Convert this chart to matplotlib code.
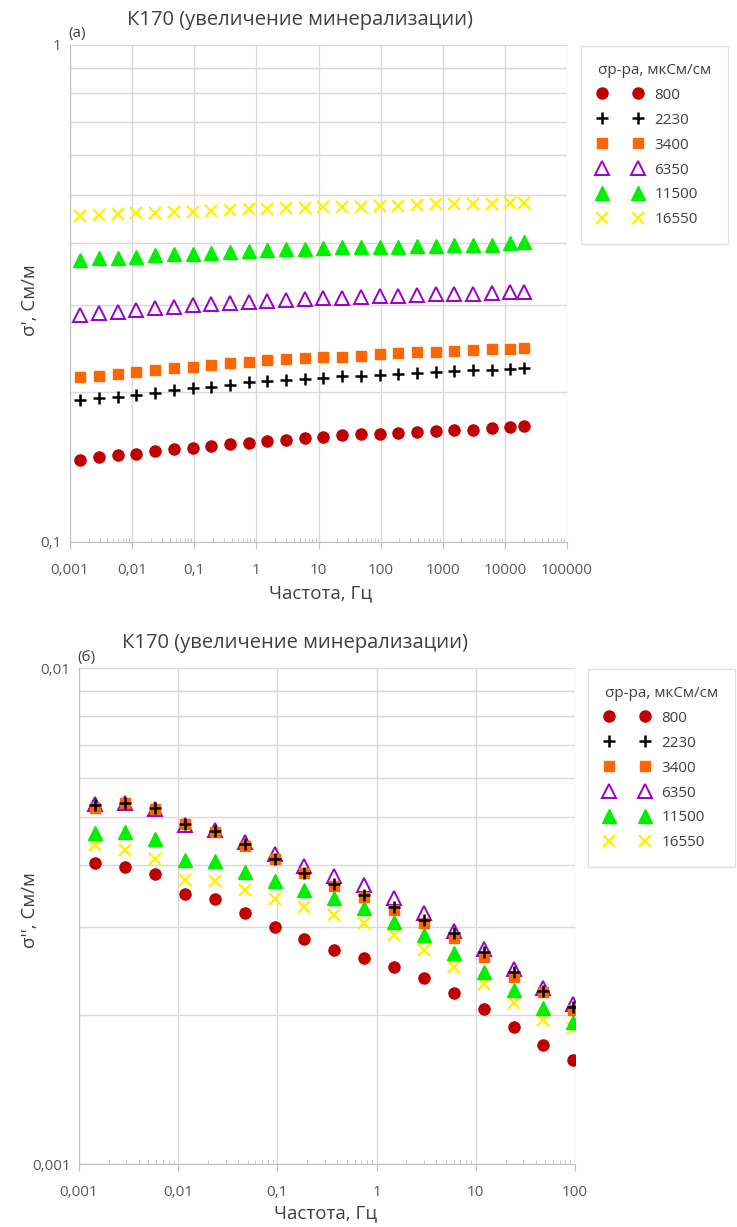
import matplotlib
matplotlib.use("Agg")
import matplotlib.pyplot as plt
from matplotlib.ticker import FuncFormatter, LogLocator, NullFormatter

plt.rcParams['font.family'] = ['Open Sans', 'DejaVu Sans']

# frequencies, Hz
freq_top = [0.00146, 0.00293, 0.00586, 0.0117, 0.0234, 0.0469, 0.0938, 0.1875, 0.375, 0.75,
            1.5, 3, 6, 12, 24, 48, 96, 192, 384, 768, 1536, 3072, 6144, 12288, 20000]
freq_bot = freq_top[:17]

labels = ["800", "2230", "3400", "6350", "11500", "16550"]

# sigma' (top), S/m
s1_800 = [0.1462, 0.1481, 0.1494, 0.1506, 0.1523, 0.1537, 0.1548, 0.1561, 0.1573, 0.1584,
          0.1597, 0.1604, 0.1617, 0.1625, 0.1640, 0.1647, 0.1652, 0.1660, 0.1665, 0.1670,
          0.1678, 0.1683, 0.1696, 0.1704, 0.1712]
s1_2230 = [0.1931, 0.1949, 0.1961, 0.1979, 0.1998, 0.2023, 0.2039, 0.2054, 0.2070, 0.2096,
           0.2109, 0.2118, 0.2128, 0.2141, 0.2155, 0.2161, 0.2171, 0.2181, 0.2191, 0.2198,
           0.2209, 0.2216, 0.2222, 0.2229, 0.2243]
s1_3400 = [0.2145, 0.2158, 0.2175, 0.2195, 0.2219, 0.2236, 0.2253, 0.2274, 0.2295, 0.2306,
           0.2321, 0.2332, 0.2346, 0.2353, 0.2360, 0.2371, 0.2386, 0.2397, 0.2408, 0.2415,
           0.2423, 0.2431, 0.2442, 0.2449, 0.2460]
s1_6350 = [0.2862, 0.2885, 0.2907, 0.2929, 0.2953, 0.2975, 0.2992, 0.3013, 0.3027, 0.3041,
           0.3055, 0.3069, 0.3079, 0.3090, 0.3102, 0.3112, 0.3122, 0.3131, 0.3141, 0.3148,
           0.3155, 0.3162, 0.3170, 0.3177, 0.3189]
s1_11500 = [0.3693, 0.3722, 0.3733, 0.3750, 0.3775, 0.3792, 0.3798, 0.3820, 0.3833, 0.3850,
            0.3868, 0.3881, 0.3892, 0.3904, 0.3923, 0.3928, 0.3928, 0.3928, 0.3941, 0.3941,
            0.3959, 0.3959, 0.3965, 0.3991, 0.4009]
s1_16550 = [0.4529, 0.4550, 0.4565, 0.4586, 0.4599, 0.4607, 0.4620, 0.4641, 0.4656, 0.4671,
            0.4677, 0.4693, 0.4706, 0.4714, 0.4728, 0.4728, 0.4743, 0.4743, 0.4765, 0.4781,
            0.4781, 0.4787, 0.4787, 0.4802, 0.4802]

# sigma'' (bottom), S/m
s2_800 = [0.004050, 0.003975, 0.003838, 0.003498, 0.003427, 0.003202, 0.003000, 0.002838,
          0.002701, 0.002598, 0.002492, 0.002368, 0.002215, 0.002051, 0.001886, 0.001735, 0.001621]
s2_2230 = [0.005294, 0.005351, 0.005214, 0.004840, 0.004692, 0.004412, 0.004121, 0.003867,
           0.003664, 0.003486, 0.003297, 0.003103, 0.002918, 0.002679, 0.002442, 0.002235, 0.002075]
s2_3400 = [0.005214, 0.005351, 0.005190, 0.004840, 0.004677, 0.004384, 0.004115, 0.003856,
           0.003641, 0.003454, 0.003252, 0.003056, 0.002851, 0.002617, 0.002385, 0.002225, 0.002044]
s2_6350 = [0.005331, 0.005355, 0.005185, 0.004835, 0.004714, 0.004460, 0.004217, 0.003997,
           0.003807, 0.003652, 0.003438, 0.003207, 0.002956, 0.002713, 0.002472, 0.002269, 0.002101]
s2_11500 = [0.004642, 0.004677, 0.004515, 0.004101, 0.004082, 0.003885, 0.003720, 0.003568,
            0.003433, 0.003282, 0.003079, 0.002895, 0.002667, 0.002442, 0.002242, 0.002066, 0.001936]
s2_16550 = [0.004397, 0.004296, 0.004115, 0.003737, 0.003720, 0.003568, 0.003422, 0.003302,
            0.003177, 0.003056, 0.002895, 0.002701, 0.002499, 0.002303, 0.002114, 0.001951, 0.001877]

# axis ticks
xticks_top = [0.001, 0.01, 0.1, 1, 10, 100, 1000, 10000, 100000]
xticks_bot = [0.001, 0.01, 0.1, 1, 10, 100]
yticks_top = [0.1, 1]
yticks_bot = [0.001, 0.01]

# marker styles per series
styles = [
    dict(marker='o', ms=8, color='#C00000', mec='#C00000', zorder=6),
    dict(marker='+', ms=9, color='black', mew=1.8, zorder=7),
    dict(marker='s', ms=7, color='#FF6600', mec='#FF6600', zorder=5),
    dict(marker='^', ms=9.5, color='#9900CC', mfc='none', mew=1.4, zorder=3),
    dict(marker='^', ms=9.5, color='#00F000', mec='#00F000', zorder=4),
    dict(marker='x', ms=8, color='#FFF200', mew=1.7, zorder=2),
]

W, H = 737, 1227
fig = plt.figure(figsize=(W / 100, H / 100), dpi=100)

grid_c = '#D9D9D9'
txt_c = '#595959'
dark_c = '#404040'


def fmt(v, pos):
    s = '%g' % v
    return s.replace('.', ',')


def setup(ax, xticks, yticks):
    ax.set_xscale('log')
    ax.set_yscale('log')
    ax.set_xlim(xticks[0], xticks[-1])
    ax.set_ylim(yticks[0], yticks[-1])
    ax.set_xticks(xticks)
    ax.set_yticks(yticks)
    ax.xaxis.set_minor_locator(LogLocator(base=10, subs=range(2, 10), numticks=20))
    ax.yaxis.set_minor_locator(LogLocator(base=10, subs=range(2, 10), numticks=20))
    ax.xaxis.set_major_formatter(FuncFormatter(fmt))
    ax.yaxis.set_major_formatter(FuncFormatter(fmt))
    ax.xaxis.set_minor_formatter(NullFormatter())
    ax.yaxis.set_minor_formatter(NullFormatter())
    ax.grid(True, which='major', axis='both', color=grid_c, lw=1)
    ax.grid(True, which='minor', axis='y', color=grid_c, lw=1)
    ax.set_axisbelow(True)
    for s in ['top', 'right']:
        ax.spines[s].set_visible(False)
    for s in ['left', 'bottom']:
        ax.spines[s].set_color('#BFBFBF')
    ax.tick_params(axis='x', which='major', direction='out', length=5, color='#BFBFBF',
                   labelsize=11, labelcolor=txt_c, pad=10)
    ax.tick_params(axis='x', which='minor', direction='in', length=3, color='#BFBFBF')
    ax.tick_params(axis='y', which='both', length=0, labelsize=11, labelcolor=txt_c, pad=6)


def add_legend(ax, handles, x0, y0):
    leg = ax.legend(handles, labels, title='σр-ра, мкСм/см', loc='upper left',
                    bbox_to_anchor=(x0 / W, 1 - y0 / H), bbox_transform=fig.transFigure,
                    borderaxespad=0, numpoints=2, handlelength=2.9, handletextpad=0.8,
                    labelspacing=0.65, borderpad=1.1, fontsize=11, title_fontsize=11,
                    alignment='left', frameon=True, fancybox=False)
    leg.get_frame().set_edgecolor(grid_c)
    leg.get_frame().set_linewidth(1)
    for t in leg.get_texts():
        t.set_color(dark_c)
    leg.get_title().set_color(dark_c)


# ---- top panel ----
ax1 = fig.add_axes([70 / W, 1 - 542 / H, 497 / W, 497 / H])
setup(ax1, xticks_top, yticks_top)
top_series = [s1_800, s1_2230, s1_3400, s1_6350, s1_11500, s1_16550]
h1 = []
for ys, st in zip(top_series, styles):
    ln, = ax1.plot(freq_top, ys, ls='none', **st)
    h1.append(ln)
add_legend(ax1, h1, 581, 46)

fig.text(300 / W, 1 - 20 / H, 'К170 (увеличение минерализации)', ha='center', va='center',
         fontsize=14.5, color=dark_c)
fig.text(68 / W, 1 - 33 / H, '(а)', ha='left', va='center', fontsize=11, color=dark_c)
fig.text(321 / W, 1 - 593 / H, 'Частота, Гц', ha='center', va='center', fontsize=13.5,
         color=dark_c)
fig.text(30 / W, 1 - 300 / H, "σ', См/м", ha='center', va='center', rotation=90,
         fontsize=13.5, color=dark_c)

# ---- bottom panel ----
ax2 = fig.add_axes([79 / W, 1 - 1164 / H, 496 / W, 496 / H])
setup(ax2, xticks_bot, yticks_bot)
bot_series = [s2_800, s2_2230, s2_3400, s2_6350, s2_11500, s2_16550]
h2 = []
for ys, st in zip(bot_series, styles):
    ln, = ax2.plot(freq_bot, ys, ls='none', **st)
    h2.append(ln)
add_legend(ax2, h2, 588, 669)

fig.text(295 / W, 1 - 643 / H, 'К170 (увеличение минерализации)', ha='center', va='center',
         fontsize=14.5, color=dark_c)
fig.text(77 / W, 1 - 657 / H, '(б)', ha='left', va='center', fontsize=11, color=dark_c)
fig.text(326 / W, 1 - 1213 / H, 'Частота, Гц', ha='center', va='center', fontsize=13.5,
         color=dark_c)
fig.text(30 / W, 1 - 910 / H, "σ'', См/м", ha='center', va='center', rotation=90,
         fontsize=13.5, color=dark_c)

fig.savefig('out.png', dpi=100)
